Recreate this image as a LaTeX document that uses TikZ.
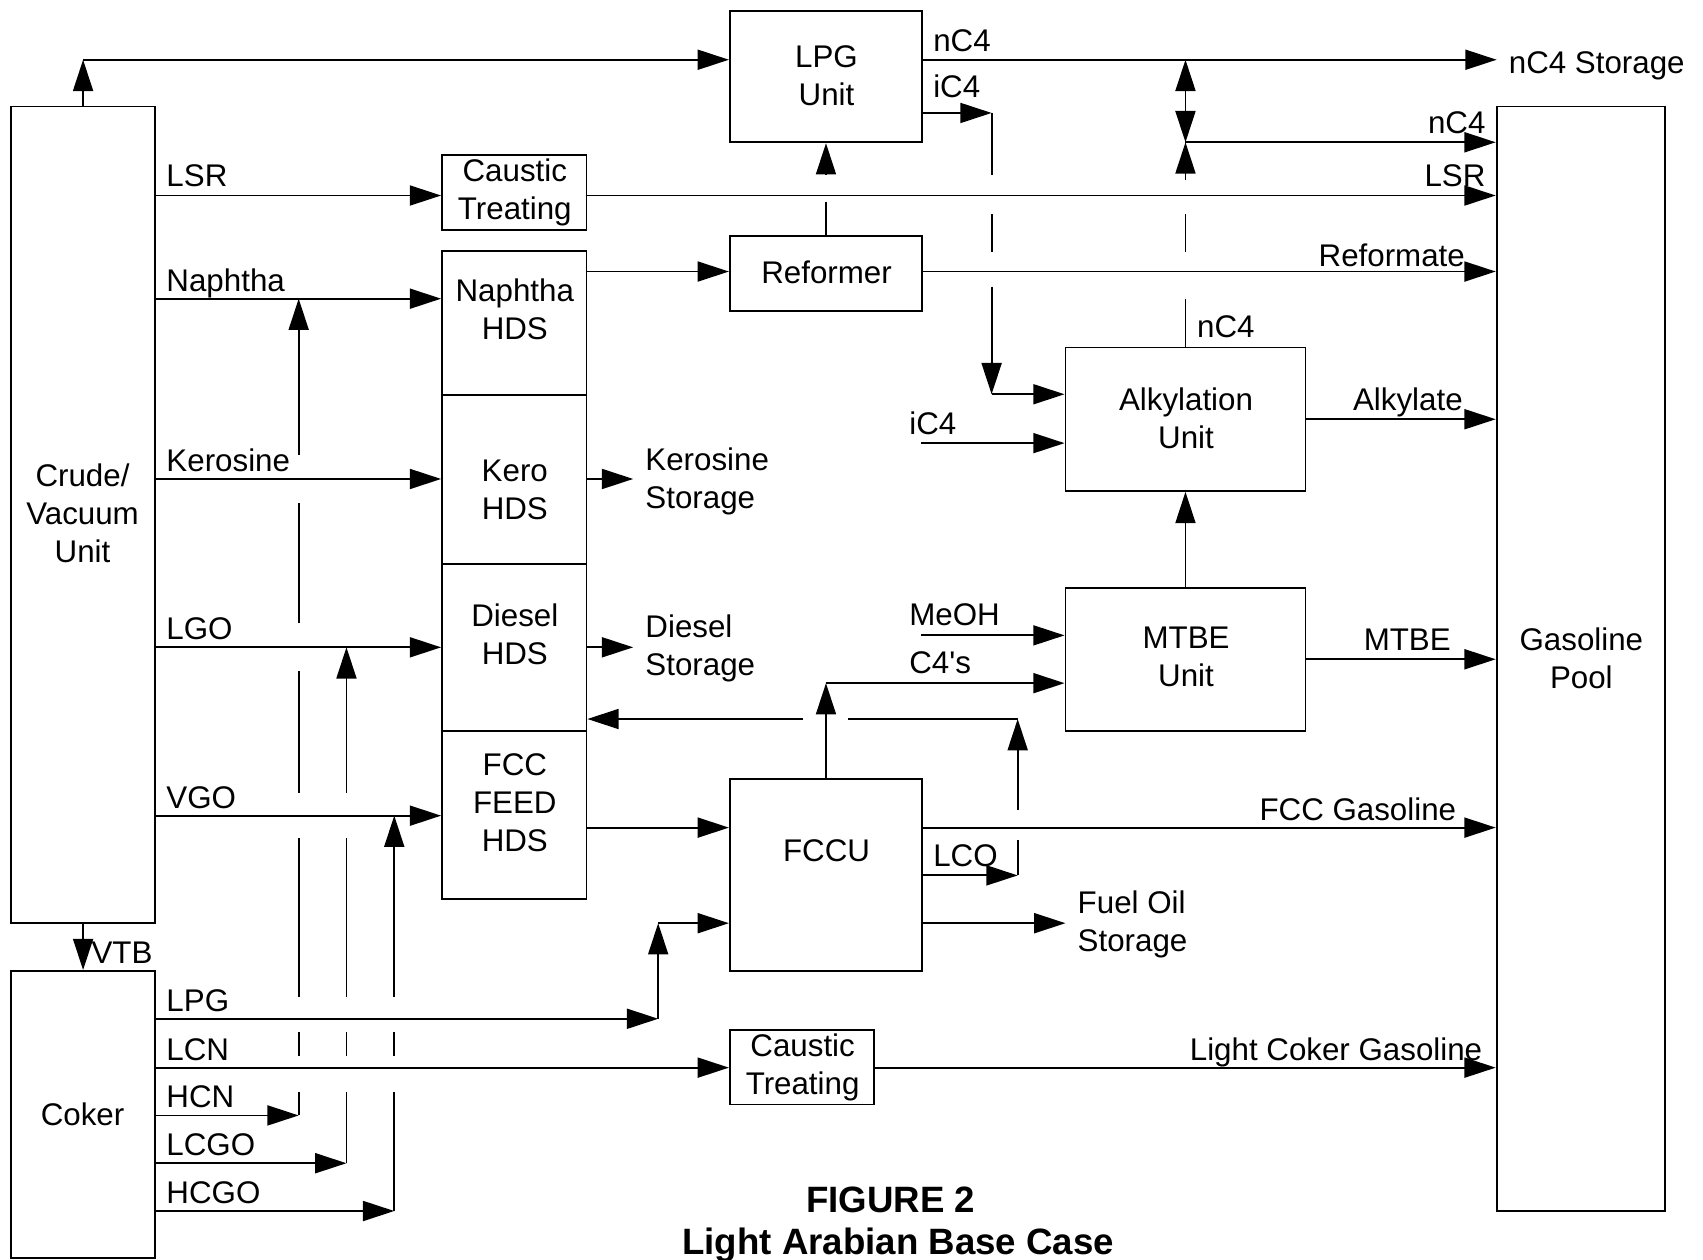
\documentclass[tikz,border=0pt]{standalone}
\usepackage{fontspec}
\setmainfont{Liberation Sans}
\usetikzlibrary{arrows.meta,fit}
\newcommand\lblfont{\fontsize{20.5pt}{24.9pt}\selectfont}
\newcommand\ttlfont{\fontsize{24pt}{29pt}\selectfont\bfseries}
\begin{document}
\begin{tikzpicture}[x=0.025cm,y=-0.025cm,
 box/.style={draw, line width=1.2pt, inner sep=0pt},
 ln/.style={line width=1.2pt},
 flow/.style={ln, -{Triangle[length=0.72cm,width=0.46cm]}},
 twoway/.style={ln, {Triangle[length=0.72cm,width=0.46cm]}-{Triangle[length=0.72cm,width=0.46cm]}},
 txt/.style={font=\lblfont, align=center, inner sep=0pt},
 lw/.style={font=\lblfont, inner sep=0pt, anchor=base west},
 le/.style={font=\lblfont, inner sep=0pt, anchor=base east},
 ttl/.style={font=\ttlfont, inner sep=0pt},
]
\useasboundingbox (0,0) rectangle (1568,1160);

% ---- boxes
\node[box, fit={(10,98) (143,850)}] (crude) {};
\node[box, fit={(10,894) (143,1158.5)}] (coker) {};
\node[box, fit={(672,10) (849,131)}] (lpg) {};
\node[box, fit={(407,143) (540,212)}] (ct1) {};
\node[box, fit={(407,231) (540,364)}] (nhds) {};
\node[box, fit={(407,364) (540,519)}] (khds) {};
\node[box, fit={(407,519) (540,673)}] (dhds) {};
\node[box, fit={(407,673) (540,828)}] (fhds) {};
\node[box, fit={(672,217) (849,286)}] (ref) {};
\node[box, fit={(981,320) (1202,452)}] (alk) {};
\node[box, fit={(981,541) (1202,673)}] (mtbe) {};
\node[box, fit={(672,717) (849,894)}] (fccu) {};
\node[box, fit={(672,948) (805,1017)}] (ct2) {};
\node[box, fit={(1378,98) (1533,1115)}] (pool) {};

% ---- box texts
\node[txt] (tcrude) at (76,473) {Crude/\\Vacuum\\Unit};
\node[txt] (tcoker) at (76,1026) {Coker};
\node[txt] (tlpg) at (761,70) {LPG\\Unit};
\node[txt] (tct1) at (474,177) {Caustic\\Treating};
\node[txt] (tnhds) at (474,285) {Naphtha\\HDS};
\node[txt] (tkhds) at (474,451) {Kero\\HDS};
\node[txt] (tdhds) at (474,584) {Diesel\\HDS};
\node[txt] (tfhds) at (474,739) {FCC\\FEED\\HDS};
\node[txt] (tref) at (761,251) {Reformer};
\node[txt] (talk) at (1092,385) {Alkylation\\Unit};
\node[txt] (tmtbe) at (1092,605) {MTBE\\Unit};
\node[txt] (tfccu) at (761,783) {FCCU};
\node[txt] (tct2) at (739,983) {Caustic\\Treating};
\node[txt] (tpool) at (1456,606) {Gasoline\\Pool};

% ---- crude overhead to LPG unit
\coordinate (jtop) at (crude.north |- 0,55);
\draw[flow] (crude.north) -- (jtop);
\draw[flow] (jtop) -- (lpg.west |- jtop);

% ---- nC4 storage
\coordinate (nstor) at (1378,55);
\draw[flow] (lpg.east |- nstor) -- (nstor);
\node[lw] (tnstor) at (1389,68) {nC4 Storage};
\node[lw] (tnc4a) at (859,47) {nC4};

% ---- iC4 from LPG unit to alkylation
\coordinate (ic4a) at (913,104);
\coordinate (ic4b) at (913,363);
\draw[flow] (lpg.east |- ic4a) -- (ic4a);
\draw[ln] (ic4a) -- (913,161);
\draw[ln] (913,197) -- (913,232);
\draw[flow] (913,264) -- (ic4b);
\draw[flow] (ic4b) -- (alk.west |- ic4b);
\node[lw] (tic4a) at (859,90) {iC4};

% ---- nC4 from alkylation
\coordinate (jn) at (1091.5,131);
\coordinate (jn0) at (1091.5,55);
\draw[twoway] (jn0) -- (jn);
\draw[ln] (alk.north) -- (1091.5,275);
\draw[ln] (1091.5,232) -- (1091.5,197);
\draw[flow] (1091.5,166) -- (jn);
\draw[flow] (jn) -- (pool.west |- jn);
\node[le] (tnc4b) at (1368,123) {nC4};
\node[lw] (tnc4c) at (1102,311) {nC4};

% ---- LSR
\coordinate (ylsr) at (0,180);
\draw[flow] (crude.east |- ylsr) -- (ct1.west |- ylsr);
\draw[flow] (ct1.east |- ylsr) -- (pool.west |- ylsr);
\node[lw] (tlsr) at (153,172) {LSR};
\node[le] (tlsr2) at (1368,172) {LSR};

% ---- Naphtha
\coordinate (ynap) at (0,275);
\draw[flow] (crude.east |- ynap) -- (nhds.west |- ynap);
\node[lw] (tnap) at (153,268) {Naphtha};

% ---- Naphtha HDS -> Reformer -> pool
\coordinate (yref) at (0,250);
\draw[flow] (nhds.east |- yref) -- (ref.west |- yref);
\draw[flow] (ref.east |- yref) -- (pool.west |- yref);
\node[le] (trefm) at (1349,245) {Reformate};
\draw[ln] (ref.north) -- (760.5,186);
\draw[flow] (760.5,161) -- (lpg.south);

% ---- Kerosine
\coordinate (yker) at (0,441);
\coordinate (kstor) at (583,441);
\draw[flow] (crude.east |- yker) -- (khds.west |- yker);
\draw[flow] (khds.east |- yker) -- (kstor);
\node[lw] (tker) at (153,434) {Kerosine};
\node[txt, anchor=west, align=left] (tkstor) at (594,443) {Kerosine\\Storage};

% ---- LGO
\coordinate (ylgo) at (0,596);
\coordinate (dstor) at (583,596);
\draw[flow] (crude.east |- ylgo) -- (dhds.west |- ylgo);
\draw[flow] (dhds.east |- ylgo) -- (dstor);
\node[lw] (tlgo) at (153,589) {LGO};
\node[txt, anchor=west, align=left] (tdstor) at (594,597) {Diesel\\Storage};

% ---- VGO
\coordinate (yvgo) at (0,751);
\draw[flow] (crude.east |- yvgo) -- (fhds.west |- yvgo);
\node[lw] (tvgo) at (153,744) {VGO};

% ---- FCC feed HDS -> FCCU -> pool
\coordinate (yffd) at (0,762);
\draw[flow] (fhds.east |- yffd) -- (fccu.west |- yffd);
\draw[flow] (fccu.east |- yffd) -- (pool.west |- yffd);
\node[le] (tfccg) at (1341,755) {FCC Gasoline};

% ---- FCCU C4's -> MTBE
\coordinate (jc4) at (760.5,629);
\draw[flow] (fccu.north) -- (jc4);
\draw[flow] (jc4) -- (mtbe.west |- jc4);
\node[lw] (tc4s) at (837,620) {C4\textquotesingle s};
\coordinate (meoh) at (848,585);
\draw[flow] (meoh) -- (mtbe.west |- meoh);
\node[lw] (tmeoh) at (837,576) {MeOH};
\draw[flow] (mtbe.north) -- (alk.south);
\coordinate (ymtbe) at (0,607);
\draw[flow] (mtbe.east |- ymtbe) -- (pool.west |- ymtbe);
\node[le] (tmtbel) at (1336,599) {MTBE};

% ---- Alkylation
\coordinate (yalk) at (0,386);
\draw[flow] (alk.east |- yalk) -- (pool.west |- yalk);
\node[le] (talkl) at (1347,378) {Alkylate};
\coordinate (ic4c) at (848,408);
\draw[flow] (ic4c) -- (alk.west |- ic4c);
\node[lw] (tic4c) at (837,400) {iC4};

% ---- LCO recycle
\coordinate (lco1) at (937,806);
\coordinate (lco2) at (937,662);
\draw[flow] (fccu.east |- lco1) -- (lco1);
\draw[ln] (lco1) -- (937,773);
\draw[flow] (937,746) -- (lco2);
\draw[ln] (lco2) -- (781,662);
\draw[flow] (739,662) -- (dhds.east |- lco2);
\node[lw] (tlco) at (859,798) {LCO};

% ---- Fuel oil
\coordinate (fuel) at (981,850);
\draw[flow] (fccu.east |- fuel) -- (fuel);
\node[txt, anchor=west, align=left] (tfuel) at (992,851) {Fuel Oil\\Storage};

% ---- VTB
\draw[flow] (crude.south) -- (coker.north);
\node[lw] (tvtb) at (84,887) {VTB};

% ---- Coker LPG -> FCCU
\coordinate (jl1) at (606,938);
\coordinate (jl2) at (606,850);
\draw[flow] (coker.east |- jl1) -- (jl1);
\draw[flow] (jl1) -- (jl2);
\draw[flow] (jl2) -- (fccu.west |- jl2);
\node[lw] (tlpg2) at (153,931) {LPG};

% ---- LCN -> caustic -> pool
\coordinate (ylcn) at (0,983);
\draw[flow] (coker.east |- ylcn) -- (ct2.west |- ylcn);
\draw[flow] (ct2.east |- ylcn) -- (pool.west |- ylcn);
\node[lw] (tlcn) at (153,976) {LCN};
\node[le] (tlcg) at (1365,976) {Light Coker Gasoline};

% ---- HCN -> Naphtha
\coordinate (hcn) at (275,1027);
\draw[flow] (coker.east |- hcn) -- (hcn);
\draw[ln] (hcn) -- (275,1005);
\draw[ln] (275,972) -- (275,950);
\draw[ln] (275,918) -- (275,772);
\draw[ln] (275,730) -- (275,618);
\draw[ln] (275,574) -- (275,463);
\draw[flow] (275,419) -- (275,275);
\node[lw] (thcn) at (153,1020) {HCN};

% ---- LCGO -> LGO
\coordinate (lcgo) at (319,1071);
\draw[flow] (coker.east |- lcgo) -- (lcgo);
\draw[ln] (lcgo) -- (319,1005);
\draw[ln] (319,972) -- (319,950);
\draw[ln] (319,918) -- (319,772);
\draw[flow] (319,730) -- (319,596);
\node[lw] (tlcgo) at (153,1064) {LCGO};

% ---- HCGO -> VGO
\coordinate (hcgo) at (363,1115);
\draw[flow] (coker.east |- hcgo) -- (hcgo);
\draw[ln] (hcgo) -- (363,1005);
\draw[ln] (363,972) -- (363,950);
\draw[flow] (363,918) -- (363,751);
\node[lw] (thcgo) at (153,1108) {HCGO};

% ---- title
\node[ttl] (fig) at (820,1105) {FIGURE 2};
\node[ttl] (sub) at (827,1146) {Light Arabian Base Case};
\end{tikzpicture}
\end{document}
